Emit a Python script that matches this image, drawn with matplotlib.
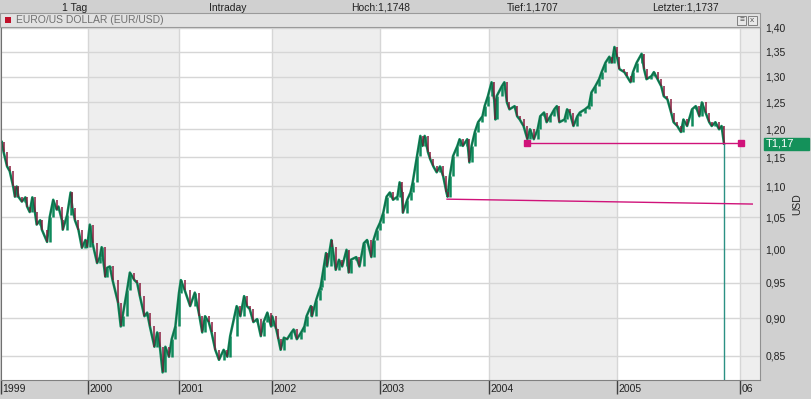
import numpy as np
import matplotlib.pyplot as plt
from matplotlib.patches import Rectangle
from matplotlib.ticker import NullLocator, FixedLocator
from matplotlib.transforms import blended_transform_factory

plt.rcParams['font.family'] = ['Liberation Sans', 'DejaVu Sans']

# EUR/USD closes (decimal year, price)
dates = [
    1999.01, 1999.03, 1999.07, 1999.10, 1999.14, 1999.16, 1999.18, 1999.20, 1999.24, 1999.28, 1999.30,
    1999.33, 1999.36, 1999.39, 1999.41, 1999.45, 1999.47, 1999.53, 1999.56, 1999.60, 1999.64, 1999.66,
    1999.70, 1999.71, 1999.76, 1999.80, 1999.82, 1999.85, 1999.89, 1999.93, 1999.97, 1999.99,
    2000.02, 2000.05, 2000.10, 2000.13, 2000.15, 2000.19, 2000.21, 2000.24, 2000.27, 2000.33, 2000.36,
    2000.38, 2000.43, 2000.46, 2000.51, 2000.54, 2000.57, 2000.62, 2000.65, 2000.68, 2000.73, 2000.76,
    2000.79, 2000.82, 2000.85, 2000.89, 2000.92, 2000.96,
    2001.00, 2001.02, 2001.06, 2001.12, 2001.17, 2001.22, 2001.25, 2001.28, 2001.32, 2001.35, 2001.39,
    2001.43, 2001.48, 2001.52, 2001.55, 2001.62, 2001.66, 2001.70, 2001.73, 2001.76, 2001.80, 2001.84,
    2001.88, 2001.91, 2001.95, 2001.99,
    2002.00, 2002.04, 2002.06, 2002.08, 2002.11, 2002.14, 2002.18, 2002.20, 2002.23, 2002.27, 2002.30,
    2002.32, 2002.36, 2002.37, 2002.41, 2002.44, 2002.45, 2002.46, 2002.48, 2002.50, 2002.51, 2002.55,
    2002.56, 2002.59, 2002.62, 2002.65, 2002.69, 2002.71, 2002.73, 2002.78, 2002.81, 2002.85, 2002.88,
    2002.92, 2002.94, 2002.97,
    2003.00, 2003.03, 2003.06, 2003.09, 2003.12, 2003.16, 2003.18, 2003.20, 2003.21, 2003.25, 2003.28,
    2003.30, 2003.34, 2003.37, 2003.39, 2003.41, 2003.44, 2003.46, 2003.49, 2003.52, 2003.55, 2003.58,
    2003.61, 2003.62, 2003.64, 2003.67, 2003.71, 2003.73, 2003.76, 2003.80, 2003.82, 2003.84, 2003.87,
    2003.90, 2003.94, 2003.96, 2003.99,
    2004.02, 2004.04, 2004.05, 2004.06, 2004.10, 2004.12, 2004.14, 2004.16, 2004.20, 2004.22, 2004.24,
    2004.27, 2004.30, 2004.32, 2004.35, 2004.38, 2004.40, 2004.43, 2004.45, 2004.48, 2004.51, 2004.53,
    2004.55, 2004.59, 2004.61, 2004.63, 2004.66, 2004.69, 2004.71, 2004.75, 2004.78, 2004.80, 2004.83,
    2004.86, 2004.88, 2004.91, 2004.94, 2004.96, 2004.98,
    2005.00, 2005.02, 2005.06, 2005.08, 2005.11, 2005.13, 2005.16, 2005.20, 2005.22, 2005.24, 2005.28,
    2005.30, 2005.33, 2005.36, 2005.38, 2005.41, 2005.44, 2005.46, 2005.49, 2005.52, 2005.54, 2005.57,
    2005.61, 2005.64, 2005.67, 2005.69, 2005.72, 2005.75, 2005.77, 2005.80, 2005.83, 2005.85, 2005.87,
]
closes = [
    1.177, 1.159, 1.134, 1.126, 1.100, 1.083, 1.100, 1.083, 1.075, 1.082, 1.067,
    1.058, 1.082, 1.058, 1.038, 1.045, 1.030, 1.011, 1.050, 1.078, 1.062, 1.067,
    1.045, 1.030, 1.053, 1.090, 1.065, 1.045, 1.030, 1.002, 1.014, 1.003,
    1.038, 1.009, 0.979, 0.988, 1.003, 0.959, 0.972, 0.974, 0.954, 0.922, 0.889,
    0.903, 0.940, 0.965, 0.954, 0.950, 0.931, 0.903, 0.908, 0.889, 0.862, 0.881,
    0.862, 0.829, 0.862, 0.849, 0.872, 0.889,
    0.936, 0.954, 0.940, 0.917, 0.936, 0.903, 0.881, 0.903, 0.895, 0.881, 0.858,
    0.845, 0.858, 0.849, 0.876, 0.917, 0.903, 0.931, 0.917, 0.913, 0.895, 0.899,
    0.876, 0.895, 0.908, 0.889,
    0.903, 0.885, 0.872, 0.858, 0.874, 0.872, 0.881, 0.885, 0.872, 0.881, 0.889,
    0.903, 0.917, 0.903, 0.926, 0.940, 0.944, 0.954, 0.974, 0.994, 0.974, 1.014,
    1.003, 0.969, 0.984, 0.974, 0.999, 0.965, 0.984, 0.988, 0.974, 1.009, 1.014,
    0.988, 1.014, 1.030,
    1.041, 1.057, 1.083, 1.090, 1.078, 1.083, 1.107, 1.090, 1.057, 1.078, 1.090,
    1.107, 1.152, 1.188, 1.170, 1.188, 1.159, 1.147, 1.134, 1.124, 1.134, 1.117,
    1.090, 1.083, 1.117, 1.152, 1.170, 1.182, 1.170, 1.182, 1.141, 1.170, 1.195,
    1.213, 1.224, 1.243, 1.262,
    1.289, 1.256, 1.218, 1.262, 1.281, 1.289, 1.250, 1.237, 1.243, 1.224, 1.218,
    1.206, 1.182, 1.200, 1.182, 1.200, 1.224, 1.231, 1.213, 1.224, 1.237, 1.243,
    1.213, 1.218, 1.237, 1.231, 1.206, 1.224, 1.231, 1.237, 1.243, 1.269, 1.281,
    1.295, 1.309, 1.328, 1.340, 1.328, 1.360,
    1.340, 1.315, 1.309, 1.301, 1.289, 1.309, 1.328, 1.346, 1.315, 1.295, 1.301,
    1.309, 1.295, 1.281, 1.262, 1.256, 1.231, 1.213, 1.206, 1.195, 1.218, 1.206,
    1.237, 1.243, 1.224, 1.250, 1.231, 1.213, 1.206, 1.213, 1.200, 1.206, 1.174,
]

# support line (start, end) and trend line
support_x = [2004.30, 2006.01]
support_y = [1.175, 1.175]
trend_x = [2003.615, 2006.10]
trend_y = [1.079, 1.071]

y_ticks = [0.85, 0.90, 0.95, 1.00, 1.05, 1.10, 1.15, 1.20, 1.25, 1.30, 1.35, 1.40]
year_labels = ['1999', '2000', '2001', '2002', '2003', '2004', '2005', '06']
header = [('1 Tag', 75), ('Intraday', 228), ('Hoch:1,1748', 381), ('Tief:1,1707', 533), ('Letzter:1,1737', 685)]

# the chart's time axis is not linear: year widths in pixels
year_edges = [1999, 2000, 2001, 2002, 2003, 2004, 2005, 2006, 2007]
edge_pos = [1, 88, 179, 272, 380, 489, 617, 740, 863]

GREEN = '#0f8a5c'
RED = '#8a1c3e'
MAGENTA = '#d0137a'
BG = '#d0d0d0'
W, H = 811, 399

fig = plt.figure(figsize=(W / 100, H / 100), dpi=100)
fig.patch.set_facecolor(BG)
ax = fig.add_axes([1 / W, 1 - 380 / H, 759 / W, 353 / H])

ax.set_xscale('function', functions=(lambda x: np.interp(x, year_edges, edge_pos),
                                     lambda p: np.interp(p, edge_pos, year_edges)))
ax.set_yscale('log')
ax.set_xlim(1999, 2006 + 20 / 123)
ax.set_ylim(0.8195, 1.402)

# alternating shaded years
for i, y0 in enumerate(year_edges[:-1]):
    if i % 2 == 1:
        ax.axvspan(y0, y0 + 1, color='#eeeeee', zorder=0, lw=0)
for y0 in year_edges[1:8]:
    ax.axvline(y0, color='#d6d6d6', lw=1, zorder=0.5)
for t in y_ticks:
    ax.axhline(t, color='#d6d6d6', lw=1, zorder=0.5)

# candles: body from previous close to close
c = np.array(closes)
d = np.array(dates)
o = np.r_[c[0], c[:-1]]
ax.plot(d, c, color=GREEN, lw=1.8, zorder=2)
up = c >= o
ax.vlines(d[up], o[up], c[up], color=GREEN, lw=1.8, zorder=3)
ax.vlines(d[~up], o[~up], c[~up], color=RED, lw=1.1, zorder=3)
ax.plot(d, c, color='#1b4a35', lw=0.45, zorder=4, alpha=0.8)

# cursor line at the last close
ax.vlines(d[-1], 0.8195, c[-1], color='#2b9184', lw=1, zorder=5)

ax.plot(support_x, support_y, color=MAGENTA, lw=1, marker='s', ms=4.5, zorder=6)
ax.plot(trend_x, trend_y, color=MAGENTA, lw=1, zorder=6)

# axes styling
ax.set_facecolor('white')
ax.spines['top'].set_visible(False)
ax.spines['left'].set_color('#707070')
ax.spines['bottom'].set_color('#808080')
ax.spines['right'].set_color('#909090')

ax.yaxis.tick_right()
ax.yaxis.set_major_locator(FixedLocator(y_ticks))
ax.yaxis.set_minor_locator(NullLocator())
ax.set_yticklabels([f'{t:.2f}'.replace('.', ',') for t in y_ticks])
ax.tick_params(axis='y', length=0, pad=4, labelsize=7.5, labelcolor='#222222')

ax.xaxis.set_major_locator(FixedLocator(year_edges[:8]))
ax.xaxis.set_minor_locator(NullLocator())
ax.set_xticklabels([''] * 8)
ax.tick_params(axis='x', length=10, width=1, color='#404040', direction='out')
xt = ax.get_xaxis_transform()
for yr, lab in zip(year_edges[:8], year_labels):
    ax.text(yr + 0.015, -0.01, lab, transform=xt, ha='left', va='top', fontsize=7.5, color='#222222')

# last price box on the right axis
bt = blended_transform_factory(fig.transFigure, ax.transData)
ax.add_patch(Rectangle((764 / W, 1.1635), 45 / W, 0.0205, transform=bt, color='#14915a',
                       clip_on=False, zorder=7))
ax.text(766 / W, 1.1737, 'T1,17', transform=bt, ha='left', va='center', fontsize=8,
        color='white', clip_on=False, zorder=8)
fig.text(797 / W, 1 - 204 / H, 'USD', rotation=90, ha='center', va='center', fontsize=7.5,
         color='#222222')

# header strip and title bar
for txt, px in header:
    fig.text(px / W, 1 - 8 / H, txt, ha='center', va='center', fontsize=7.5, color='#222222')
fig.patches.append(Rectangle((0, 1 - 27 / H), 760 / W, 14 / H, transform=fig.transFigure,
                             facecolor='#e2e2e2', edgecolor='#9a9a9a', lw=0.8))
fig.patches.append(Rectangle((5 / W, 1 - 23 / H), 6 / W, 6 / H, transform=fig.transFigure,
                             facecolor='#c0102a', edgecolor='none'))
fig.text(16 / W, 1 - 20 / H, 'EURO/US DOLLAR (EUR/USD)', ha='left', va='center', fontsize=7.5,
         color='#707070')
for bx, sym in [(737, '≡'), (748, 'x')]:
    fig.patches.append(Rectangle((bx / W, 1 - 25 / H), 9 / W, 9 / H, transform=fig.transFigure,
                                 facecolor='#e8e8e8', edgecolor='#808080', lw=0.7))
    fig.text((bx + 4.5) / W, 1 - 20.5 / H, sym, ha='center', va='center', fontsize=6, color='#555555')

fig.savefig('out.png', dpi=100, facecolor=BG)
